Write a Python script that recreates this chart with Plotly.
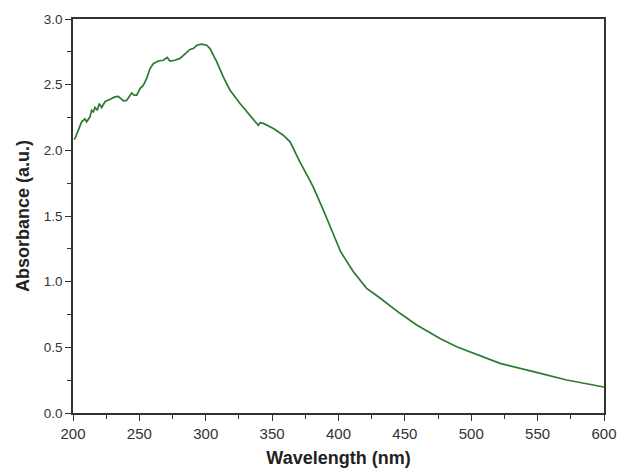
import plotly.graph_objects as go

wavelength = [200.8, 201.5, 206.5, 209, 210.3, 212.8, 214, 215.3, 216.6, 218.3, 219.8, 221.6,
              224.1, 226.6, 229.2, 231.6, 234.1, 235.9, 237.9, 240.4, 243, 244.2, 246, 248,
              250.5, 253, 255.5, 258, 260.5, 264.3, 268, 271, 273, 276.8, 280.6, 284.4,
              288.1, 290.6, 293.2, 296.9, 300.7, 303.2, 308.2, 313.2, 318.3, 325.8, 333.3,
              339.6, 340.9, 343.4, 351, 358.4, 363.5, 368.5, 371, 378.5, 381, 388.6, 396.1,
              400.6, 401.6, 411.2, 421.2, 430, 446.3, 458.9, 476.5, 489, 501.6, 521.7,
              546.8, 571.9, 600]
absorbance = [2.083, 2.09, 2.217, 2.24, 2.217, 2.255, 2.305, 2.293, 2.326, 2.305, 2.356, 2.326,
              2.37, 2.38, 2.395, 2.407, 2.41, 2.395, 2.376, 2.38, 2.42, 2.437, 2.42, 2.42,
              2.47, 2.496, 2.547, 2.623, 2.66, 2.68, 2.686, 2.707, 2.68, 2.686, 2.70, 2.737,
              2.768, 2.775, 2.80, 2.808, 2.80, 2.775, 2.675, 2.56, 2.458, 2.357, 2.267,
              2.19, 2.21, 2.205, 2.166, 2.115, 2.065, 1.963, 1.91, 1.77, 1.72, 1.545, 1.367,
              1.266, 1.228, 1.075, 0.949, 0.885, 0.759, 0.67, 0.568, 0.505, 0.454, 0.378,
              0.315, 0.251, 0.198]

x_ticks = [200, 250, 300, 350, 400, 450, 500, 550, 600]
y_ticks = [0.0, 0.5, 1.0, 1.5, 2.0, 2.5, 3.0]

FONT = "Arial, Liberation Sans, sans-serif"

fig = go.Figure()
fig.add_trace(go.Scatter(x=wavelength, y=absorbance, mode="lines",
                         line=dict(color="#2b7a30", width=1.7), showlegend=False))

axis_common = dict(showgrid=False, zeroline=False, showline=True, linecolor="#333333",
                   linewidth=1.5, mirror=True, ticks="outside", ticklen=6, tickwidth=1.2,
                   tickcolor="#333333", automargin=False)

fig.update_xaxes(range=[200, 600], tickvals=x_ticks, ticktext=[str(v) for v in x_ticks],
                 tickfont=dict(family=FONT, size=15, color="#333333"),
                 minor=dict(dtick=25, ticks="outside", ticklen=4, tickcolor="#333333", tickwidth=1.2),
                 title=dict(text="<b>Wavelength (nm)</b>", standoff=11,
                            font=dict(family=FONT, size=18, color="#222222")),
                 **axis_common)
fig.update_yaxes(range=[0, 3.0], tickvals=y_ticks, ticktext=[f"{v:.1f}" for v in y_ticks],
                 tickfont=dict(family=FONT, size=13.5, color="#333333"),
                 minor=dict(dtick=0.25, ticks="outside", ticklen=4, tickcolor="#333333", tickwidth=1.2),
                 title=dict(text="<b>Absorbance (a.u.)</b>", standoff=9,
                            font=dict(family=FONT, size=18, color="#222222")),
                 **axis_common)

fig.update_layout(width=618, height=468, margin=dict(l=73, r=14, t=19, b=55),
                  plot_bgcolor="white", paper_bgcolor="white")

fig.write_html("out.html", config={"displayModeBar": False},
               post_script="document.body.style.margin='0';document.body.style.overflow='hidden';")
